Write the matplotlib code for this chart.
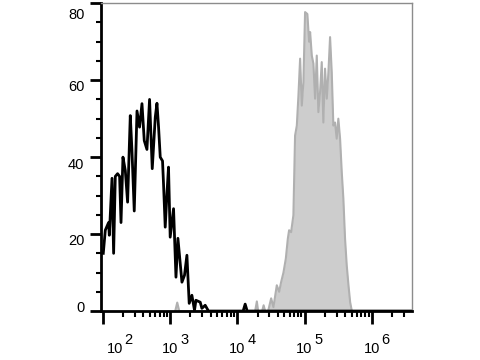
import numpy as np
import matplotlib
matplotlib.use('Agg')
import matplotlib.pyplot as plt
from matplotlib.ticker import FixedLocator, NullFormatter
import matplotlib.transforms as mtransforms

plt.rcParams['font.family'] = ['Liberation Sans', 'DejaVu Sans']

# unstained control (black outline), x as log10(fluorescence)
ctrl_log = [2.004, 2.034, 2.083, 2.094, 2.134, 2.158, 2.183, 2.217, 2.247, 2.268,
            2.297, 2.332, 2.366, 2.406, 2.431, 2.465, 2.506, 2.544, 2.580, 2.614,
            2.654, 2.693, 2.733, 2.778, 2.803, 2.827, 2.852, 2.886, 2.901, 2.926,
            2.952, 2.975, 3.000, 3.050, 3.086, 3.115, 3.175, 3.213, 3.249, 3.283,
            3.323, 3.362, 3.383, 3.447, 3.472, 3.521, 3.570, 4.086, 4.116, 4.146, 6.6]
ctrl_cnt = [15, 21, 23, 19.7, 34.5, 15, 35, 35.7, 35, 23,
            40, 36.5, 28.3, 50.8, 41.7, 26, 52, 47.8, 53.9, 44.3,
            42, 55, 37, 50.4, 54, 47.8, 40, 39, 33, 21.8,
            30.5, 37.4, 19.2, 26.6, 8.8, 18.9, 7.5, 9.3, 14.5, 2,
            4.1, 0.2, 2.8, 2.3, 0.7, 1.5, 0, 0, 1.8, 0, 0]

# stained sample (grey filled)
stain_log = [3.075, 3.105, 3.135, 4.190, 4.265, 4.290, 4.309, 4.369, 4.391, 4.413,
             4.458, 4.503, 4.537, 4.587, 4.622, 4.651, 4.686, 4.721, 4.751, 4.770,
             4.800, 4.834, 4.859, 4.885, 4.909, 4.934, 4.959, 4.983, 5.008, 5.042,
             5.068, 5.083, 5.108, 5.132, 5.157, 5.182, 5.206, 5.231, 5.256, 5.280,
             5.305, 5.331, 5.355, 5.380, 5.405, 5.429, 5.454, 5.479, 5.503, 5.529,
             5.554, 5.578, 5.603, 5.628, 5.654, 5.679, 5.704, 5.753]
stain_cnt = [0, 2.2, 0, 0, 0, 2.5, 0, 0, 1.5, 0,
             0, 3.3, 1, 6.7, 5, 7.5, 10, 13.6, 18.8, 21,
             20.5, 24.9, 45.6, 48.2, 56, 65.6, 53.4, 59.5, 77.7, 77.2,
             70, 72.5, 66.4, 64.3, 55.2, 66.4, 51.7, 56.9, 64.7, 49,
             63, 55.2, 62, 71.2, 62, 48.2, 49, 44.8, 50, 44.8,
             36.1, 29.2, 18.8, 11.9, 6.7, 2.3, 0, 0]

y_ticks = [0, 20, 40, 60, 80]
x_decades = [2, 3, 4, 5, 6]

fig = plt.figure(figsize=(4.8, 3.6), dpi=100)
ax = fig.add_axes([0.2104, 0.136, 0.6473, 0.855])

sx = 10 ** np.array(stain_log)
ax.fill_between(sx, stain_cnt, 0, color='#cdcdcd', lw=0)
ax.plot(sx, stain_cnt, color='#b0b0b0', lw=1.5)
ax.plot(10 ** np.array(ctrl_log), ctrl_cnt, color='black', lw=2.0)

ax.set_xscale('log')
ax.set_xlim(10 ** 1.97, 10 ** 6.595)
ax.set_ylim(0, 80)

ax.set_yticks(y_ticks)
ax.yaxis.set_minor_locator(FixedLocator(np.arange(0, 81, 5)))
ax.tick_params(axis='y', which='major', length=8, width=2, labelsize=10.5, pad=4)
ax.tick_params(axis='y', which='minor', length=3.5, width=1.5)

# label nudges (pixels) as in the source figure
y_shift = [4.7, -5.6, -6, -5, -10]
for lab, dy in zip(ax.get_yticklabels(), y_shift):
    lab.set_transform(lab.get_transform() + mtransforms.ScaledTranslation(0, dy / 100, fig.dpi_scale_trans))

ax.set_xticks([10 ** d for d in x_decades])
ax.set_xticklabels([''] * len(x_decades))
minors = [m * 10 ** d for d in range(1, 7) for m in range(2, 10)]
ax.xaxis.set_minor_locator(FixedLocator(minors))
ax.xaxis.set_minor_formatter(NullFormatter())
ax.tick_params(axis='x', which='major', length=9, width=2)
ax.tick_params(axis='x', which='minor', length=4.5, width=1.5)

# decade labels: "10" with a full-size raised exponent
for i, d in enumerate(x_decades):
    dx = 11.8 if i == 0 else 0
    ax.annotate('10', xy=(10 ** d, 0), xycoords=('data', 'axes fraction'),
                xytext=(dx * 0.72, -30.5), textcoords='offset points',
                ha='center', va='baseline', fontsize=10.5, annotation_clip=False)
    ax.annotate(str(d), xy=(10 ** d, 0), xycoords=('data', 'axes fraction'),
                xytext=((dx + 14) * 0.72, -23.8), textcoords='offset points',
                ha='center', va='baseline', fontsize=10.5, annotation_clip=False)

for s in ['left', 'bottom']:
    ax.spines[s].set_linewidth(2)
    ax.spines[s].set_color('black')
for s in ['top', 'right']:
    ax.spines[s].set_linewidth(1)
    ax.spines[s].set_color('#8c8c8c')

fig.savefig('out.png', dpi=100)
